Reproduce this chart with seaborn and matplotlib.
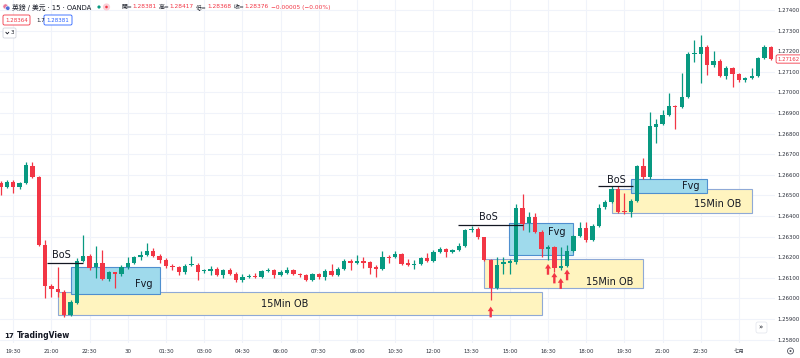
import numpy as np
import pandas as pd
import matplotlib
matplotlib.use("Agg")
import matplotlib.pyplot as plt
from matplotlib.patches import Rectangle, FancyBboxPatch, Circle
from matplotlib.path import Path
from matplotlib.markers import MarkerStyle
from matplotlib.transforms import IdentityTransform, blended_transform_factory
from matplotlib.lines import Line2D
import seaborn as sns

# ---------------- data (GBP/USD 15m, OANDA) ----------------
opens = [1.26560, 1.26540, 1.26567, 1.26540, 1.26558, 1.26645, 1.26588, 1.26260, 1.26061, 1.26045,
         1.26033, 1.25920, 1.25979, 1.26183, 1.26206, 1.26151, 1.26174, 1.26093, 1.26127, 1.26119,
         1.26151, 1.26170, 1.26200, 1.26213, 1.26232, 1.26208, 1.26187, 1.26158, 1.26150, 1.26127,
         1.26160, 1.26163, 1.26131, 1.26135, 1.26142, 1.26112, 1.26140, 1.26120, 1.26087, 1.26103,
         1.26111, 1.26106, 1.26135, 1.26138, 1.26115, 1.26125, 1.26140, 1.26120, 1.26112, 1.26090,
         1.26120, 1.26103, 1.26132, 1.26114, 1.26143, 1.26180, 1.26170, 1.26180, 1.26175, 1.26151,
         1.26143, 1.26203, 1.26200, 1.26216, 1.26170, 1.26162, 1.26167, 1.26196, 1.26183, 1.26227,
         1.26238, 1.26227, 1.26235, 1.26255, 1.26332, 1.26338, 1.26297, 1.26187, 1.26049, 1.26167,
         1.26174, 1.26178, 1.26438, 1.26365, 1.26394, 1.26324, 1.26242, 1.26250, 1.26148, 1.26157,
         1.26232, 1.26303, 1.26341, 1.26284, 1.26352, 1.26442, 1.26470, 1.26530, 1.26424, 1.26421,
         1.26475, 1.26643, 1.26587, 1.26834, 1.26847, 1.26890, 1.26934, 1.26930, 1.26979, 1.27187,
         1.27185, 1.27222, 1.27133, 1.27152, 1.27080, 1.27120, 1.27088, 1.27060, 1.27068, 1.27081,
         1.27166, 1.27220]
highs = [1.26570, 1.26575, 1.26575, 1.26565, 1.26664, 1.26660, 1.26595, 1.26284, 1.26070, 1.26154,
         1.26040, 1.25990, 1.26196, 1.26308, 1.26215, 1.26252, 1.26235, 1.26135, 1.26130, 1.26160,
         1.26201, 1.26205, 1.26228, 1.26271, 1.26245, 1.26215, 1.26195, 1.26165, 1.26155, 1.26165,
         1.26206, 1.26170, 1.26145, 1.26158, 1.26150, 1.26145, 1.26148, 1.26128, 1.26120, 1.26118,
         1.26125, 1.26140, 1.26148, 1.26145, 1.26140, 1.26150, 1.26145, 1.26125, 1.26118, 1.26125,
         1.26125, 1.26143, 1.26167, 1.26150, 1.26192, 1.26190, 1.26211, 1.26200, 1.26180, 1.26160,
         1.26228, 1.26210, 1.26232, 1.26220, 1.26190, 1.26185, 1.26200, 1.26222, 1.26235, 1.26250,
         1.26245, 1.26240, 1.26271, 1.26337, 1.26352, 1.26345, 1.26300, 1.26190, 1.26200, 1.26200,
         1.26190, 1.26459, 1.26507, 1.26421, 1.26415, 1.26330, 1.26260, 1.26255, 1.26249, 1.26259,
         1.26310, 1.26373, 1.26373, 1.26360, 1.26459, 1.26480, 1.26546, 1.26546, 1.26510, 1.26482,
         1.26648, 1.26680, 1.26907, 1.26870, 1.26915, 1.26999, 1.26940, 1.27093, 1.27195, 1.27254,
         1.27278, 1.27230, 1.27201, 1.27160, 1.27130, 1.27125, 1.27095, 1.27075, 1.27117, 1.27170,
         1.27230, 1.27225]
lows = [1.26502, 1.26536, 1.26514, 1.26530, 1.26555, 1.26585, 1.26255, 1.26002, 1.26009, 1.26009,
        1.25910, 1.25915, 1.25973, 1.26175, 1.26140, 1.26098, 1.26090, 1.26085, 1.26049, 1.26110,
        1.26145, 1.26165, 1.26187, 1.26208, 1.26200, 1.26173, 1.26148, 1.26140, 1.26114, 1.26120,
        1.26155, 1.26090, 1.26125, 1.26112, 1.26110, 1.26100, 1.26115, 1.26082, 1.26082, 1.26100,
        1.26100, 1.26100, 1.26130, 1.26100, 1.26108, 1.26120, 1.26115, 1.26105, 1.26085, 1.26085,
        1.26095, 1.26090, 1.26110, 1.26110, 1.26140, 1.26138, 1.26165, 1.26146, 1.26119, 1.26103,
        1.26140, 1.26174, 1.26198, 1.26160, 1.26155, 1.26143, 1.26160, 1.26178, 1.26178, 1.26222,
        1.26203, 1.26220, 1.26230, 1.26250, 1.26321, 1.26290, 1.26180, 1.25992, 1.26045, 1.26119,
        1.26119, 1.26167, 1.26332, 1.26324, 1.26318, 1.26200, 1.26187, 1.26130, 1.26140, 1.26150,
        1.26225, 1.26298, 1.26276, 1.26280, 1.26345, 1.26435, 1.26465, 1.26415, 1.26410, 1.26397,
        1.26470, 1.26582, 1.26580, 1.26753, 1.26840, 1.26885, 1.26821, 1.26925, 1.26975, 1.27149,
        1.27044, 1.27084, 1.27125, 1.27075, 1.27065, 1.27028, 1.27050, 1.27050, 1.27063, 1.27075,
        1.27160, 1.27155]
closes = [1.26541, 1.26567, 1.26540, 1.26558, 1.26648, 1.26591, 1.26260, 1.26061, 1.26045, 1.26033,
          1.25920, 1.25981, 1.26183, 1.26206, 1.26146, 1.26174, 1.26093, 1.26127, 1.26119, 1.26151,
          1.26170, 1.26200, 1.26213, 1.26232, 1.26208, 1.26187, 1.26158, 1.26150, 1.26127, 1.26158,
          1.26166, 1.26130, 1.26138, 1.26142, 1.26114, 1.26140, 1.26120, 1.26087, 1.26103, 1.26111,
          1.26105, 1.26135, 1.26138, 1.26112, 1.26126, 1.26140, 1.26120, 1.26112, 1.26090, 1.26120,
          1.26103, 1.26132, 1.26114, 1.26143, 1.26180, 1.26170, 1.26180, 1.26170, 1.26146, 1.26143,
          1.26200, 1.26195, 1.26216, 1.26167, 1.26162, 1.26168, 1.26196, 1.26183, 1.26227, 1.26238,
          1.26227, 1.26235, 1.26254, 1.26332, 1.26338, 1.26297, 1.26187, 1.26049, 1.26162, 1.26178,
          1.26180, 1.26438, 1.26362, 1.26394, 1.26324, 1.26240, 1.26250, 1.26146, 1.26157, 1.26232,
          1.26303, 1.26341, 1.26284, 1.26352, 1.26438, 1.26470, 1.26530, 1.26421, 1.26419, 1.26475,
          1.26643, 1.26587, 1.26837, 1.26847, 1.26890, 1.26934, 1.26928, 1.26979, 1.27187, 1.27192,
          1.27222, 1.27133, 1.27152, 1.27080, 1.27120, 1.27089, 1.27059, 1.27068, 1.27081, 1.27166,
          1.27220, 1.27162]

time_tick_index = [2, 8, 14, 20, 26, 32, 38, 44, 50, 56, 62, 68, 74, 80, 86, 92, 98, 104, 110, 116]
time_tick_labels = ["19:30", "21:00", "22:30", "30", "01:30", "03:00", "04:30", "06:00", "07:30",
                    "09:00", "10:30", "12:00", "13:30", "15:00", "16:30", "18:00", "19:30", "21:00",
                    "22:30", "七月"]
price_ticks = [1.258, 1.259, 1.260, 1.261, 1.262, 1.263, 1.264, 1.265, 1.266, 1.267, 1.268,
               1.269, 1.270, 1.271, 1.272, 1.273, 1.274]
last_price = 1.27162

# Break of structure lines
bos_start = [7.3, 71.9, 93.9]
bos_end = [12.96, 82.1, 99.4]
bos_price = [1.26173, 1.26356, 1.26546]
bos_text_x = [9.5, 76.6, 96.7]
bos_text_y = [1.26211, 1.26395, 1.26577]

# Fair value gaps
fvg_start = [11.0, 79.9, 99.0]
fvg_end = [25.05, 89.9, 111.0]
fvg_low = [1.26021, 1.26211, 1.26510]
fvg_high = [1.26152, 1.26365, 1.26580]
fvg_text_x = [22.5, 87.4, 108.5]
fvg_text_y = [1.26068, 1.26322, 1.26545]

# 15 minute order blocks
ob_start = [9.08, 75.95, 96.0]
ob_end = [85.0, 100.9, 118.05]
ob_low = [1.25918, 1.26049, 1.26415]
ob_high = [1.26030, 1.26190, 1.26530]
ob_text_x = [44.7, 95.7, 112.7]
ob_text_y = [1.25972, 1.26082, 1.26456]

# red up-arrows
arrow_index = [77, 86, 87, 88, 89]
arrow_price = [1.25934, 1.26141, 1.26099, 1.26072, 1.26114]

GREEN = "#089981"
RED = "#f23645"
TXT = "#131722"
W, H = 800, 358

sns.set_theme(style="white", rc={"axes.facecolor": "white", "figure.facecolor": "white"})
plt.rcParams["font.family"] = ["DejaVu Sans"]
cjk = ["DejaVu Sans", "Noto Sans CJK TC"]

fig = plt.figure(figsize=(W / 100, H / 100), dpi=100)
ax = fig.add_axes([0, 15 / H, 775 / W, 343 / H])

df = pd.DataFrame({"o": opens, "h": highs, "l": lows, "c": closes})
df["i"] = np.arange(len(df))
df["up"] = df["c"] >= df["o"]
cols = np.where(df["up"], GREEN, RED)

# zones (below candles)
for s, e, lo, hi in zip(ob_start, ob_end, ob_low, ob_high):
    ax.add_patch(Rectangle((s, lo), e - s, hi - lo, facecolor="#fff4bf", edgecolor="#8fa9d6",
                           lw=0.8, zorder=1))
for s, e, lo, hi in zip(fvg_start, fvg_end, fvg_low, fvg_high):
    ax.add_patch(Rectangle((s, lo), e - s, hi - lo, facecolor="#9fdaec", edgecolor="#4f8fcf",
                           lw=0.8, zorder=1.5))

# candles
ax.vlines(df["i"], df["l"], df["h"], colors=cols, lw=0.9, zorder=3)
bot = np.minimum(df["o"], df["c"])
hgt = np.maximum(np.abs(df["c"] - df["o"]), 0.00004)
ax.bar(df["i"], hgt, bottom=bot, width=0.68, color=cols, edgecolor=cols, lw=0, zorder=4)

# BoS
ax.hlines(bos_price, bos_start, bos_end, colors=TXT, lw=0.9, zorder=5)
for x, y in zip(bos_text_x, bos_text_y):
    ax.text(x, y, "BoS", fontsize=7, color=TXT, ha="center", va="center", zorder=6)
for x, y in zip(fvg_text_x, fvg_text_y):
    ax.text(x, y, "Fvg", fontsize=7, color=TXT, ha="center", va="center", zorder=6)
for x, y in zip(ob_text_x, ob_text_y):
    ax.text(x, y, "15Min OB", fontsize=7, color=TXT, ha="center", va="center", zorder=6)

# arrows
arrow_path = Path([(0, 1), (0.55, 0.15), (0.22, 0.15), (0.22, -1), (-0.22, -1), (-0.22, 0.15),
                   (-0.55, 0.15), (0, 1)],
                  [Path.MOVETO] + [Path.LINETO] * 6 + [Path.CLOSEPOLY])
adf = pd.DataFrame({"i": arrow_index, "p": arrow_price})
sns.scatterplot(data=adf, x="i", y="p", marker=MarkerStyle(arrow_path), s=60, color=RED,
                edgecolor="none", linewidth=0, ax=ax, zorder=7, legend=False)

# axes
ax.set_xlim(-0.08, 121.66)
ax.set_ylim(1.257835, 1.274485)
ax.set_xticks(time_tick_index)
ax.set_xticklabels(time_tick_labels, family=cjk)
ax.yaxis.tick_right()
ax.set_yticks(price_ticks)
ax.set_yticklabels([f"{p:.5f}" for p in price_ticks])
ax.tick_params(axis="x", length=0, pad=4.5, labelsize=3.9, colors="#2a2e39")
ax.tick_params(axis="y", length=0, pad=1.8, labelsize=3.9, colors="#2a2e39")
ax.set_xlabel("")
ax.set_ylabel("")
ax.grid(True, color="#f0f3fa", lw=0.8, zorder=0)
ax.set_axisbelow(True)
for sp in ax.spines.values():
    sp.set_visible(False)

# current price label
tr = blended_transform_factory(ax.transAxes, ax.transData)
ax.text(1.0035, last_price, f"{last_price:.5f}", transform=tr, fontsize=3.9, color=RED,
        ha="left", va="center", clip_on=False, zorder=8,
        bbox=dict(boxstyle="round,pad=0.3,rounding_size=0.3", fc="white", ec=RED, lw=0.6))

# ---------------- header overlay ----------------
ident = IdentityTransform()
renderer = fig.canvas.get_renderer()


def ftext(x, y, s, size, color, **kw):
    return fig.text(x / W, 1 - y / H, s, fontsize=size, color=color, family=cjk,
                    va="center", ha="left", **kw)


def seq(x, y, pieces, size, gap=1.5):
    for s, col, extra in pieces:
        x += extra
        t = ftext(x, y, s, size, col)
        bb = t.get_window_extent(renderer=renderer)
        x = bb.x1 + gap
    return x


def rbox(x0, y0, x1, y1, ec, lw=0.6, fc="white", r=1.5):
    p = FancyBboxPatch((x0, H - y1), x1 - x0, y1 - y0,
                       boxstyle=f"round,pad=0,rounding_size={r}", transform=ident,
                       fc=fc, ec=ec, lw=lw)
    fig.add_artist(p)


# pair icon
fig.add_artist(Circle((5.5, H - 6.5), 2.6, transform=ident, fc="#e87a9c", ec="white", lw=0.4))
fig.add_artist(Circle((7.8, H - 8.2), 2.2, transform=ident, fc="#4f6fd8", ec="white", lw=0.4))
ftext(12, 7, "英鎊 / 美元 · 15 · OANDA", 4.9, TXT)
fig.add_artist(Circle((99, H - 7), 1.6, transform=ident, fc=GREEN, ec="none"))
fig.add_artist(Circle((106.5, H - 7), 3.6, transform=ident, fc="#fbd0d8", ec="none"))
fig.add_artist(Circle((106.5, H - 7), 1.3, transform=ident, fc=RED, ec="none"))
seq(121, 7, [("開=", TXT, 0), ("1.28381", RED, 0),
             ("高=", TXT, 2.0), ("1.28417", RED, 0),
             ("低=", TXT, 2.0), ("1.28368", RED, 0),
             ("收=", TXT, 2.0), ("1.28376", RED, 0),
             ("−0.00005 (−0.00%)", RED, 2.0)], 4.2, gap=0.3)

# row 2
rbox(3, 15, 30, 25, ec=RED)
ftext(5.5, 20, "1.28364", 4.0, RED)
ftext(36, 20, "1.7", 4.0, TXT)
rbox(44, 15, 72, 25, ec="#2962ff")
ftext(46.5, 20, "1.28381", 4.0, "#2962ff")

# row 3
rbox(3, 28, 16, 38, ec="#d1d4dc")
fig.add_artist(Line2D([5.8, 7.3, 8.8], [H - 32.2, H - 33.9, H - 32.2], transform=ident,
                      color=TXT, lw=0.6))
ftext(10.5, 33, "3", 4.0, TXT)

# TradingView logo
ftext(4.5, 336, "17", 5.0, TXT, fontweight="bold")
ftext(17, 336, "TradingView", 5.5, TXT, fontweight="bold")

# scroll button and settings icon
rbox(756, 322, 767, 333, ec="#e0e3eb", lw=0.5, r=2)
ftext(758.5, 327.5, "»", 5.0, TXT)
fig.add_artist(Circle((790.5, H - 351), 3.0, transform=ident, fc="none", ec="#50535e", lw=0.6))
fig.add_artist(Circle((790.5, H - 351), 1.0, transform=ident, fc="#50535e", ec="none"))

fig.savefig("out.png", dpi=100)
